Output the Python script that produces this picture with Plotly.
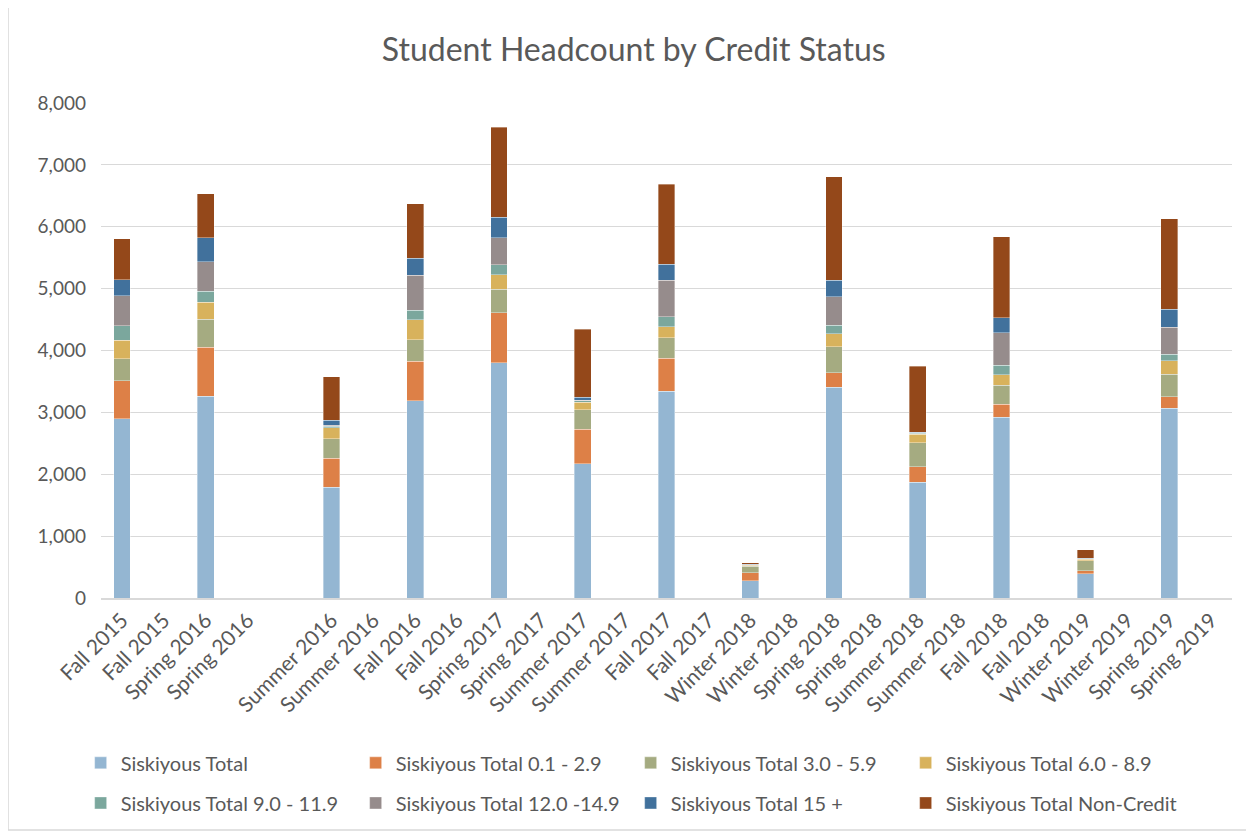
import plotly.graph_objects as go

terms = ["Fall 2015", "Spring 2016", "Summer 2016", "Fall 2016", "Spring 2017", "Summer 2017",
         "Fall 2017", "Winter 2018", "Spring 2018", "Summer 2018", "Fall 2018", "Winter 2019", "Spring 2019"]

# axis slots: each term appears twice, plus one blank slot after Spring 2016
# (a zero-width space keeps the repeated labels distinct for plotly)
ZW = "\u200b"
axis_labels = ["Fall 2015", "Fall 2015" + ZW, "Spring 2016", "Spring 2016" + ZW, ZW * 2,
               "Summer 2016", "Summer 2016" + ZW, "Fall 2016", "Fall 2016" + ZW,
               "Spring 2017", "Spring 2017" + ZW, "Summer 2017", "Summer 2017" + ZW,
               "Fall 2017", "Fall 2017" + ZW, "Winter 2018", "Winter 2018" + ZW,
               "Spring 2018", "Spring 2018" + ZW, "Summer 2018", "Summer 2018" + ZW,
               "Fall 2018", "Fall 2018" + ZW, "Winter 2019", "Winter 2019" + ZW,
               "Spring 2019", "Spring 2019" + ZW]

total = [2900, 3260, 1786, 3189, 3803, 2170, 3342, 279, 3403, 1868, 2921, 389, 3063]
c01_29 = [614, 789, 471, 636, 811, 559, 532, 126, 241, 252, 214, 49, 186]
c30_59 = [356, 455, 318, 351, 373, 312, 334, 105, 416, 389, 301, 168, 367]
c60_89 = [296, 279, 175, 318, 236, 126, 175, 22, 208, 137, 175, 22, 219]
c90_119 = [236, 175, 25, 159, 159, 20, 159, 4, 137, 18, 148, 4, 104]
c120_149 = [482, 477, 19, 564, 444, 13, 592, 4, 460, 10, 526, 4, 433]
c15_plus = [263, 389, 77, 274, 329, 44, 258, 3, 268, 5, 241, 3, 296]
non_credit = [658, 707, 701, 877, 1452, 1096, 1293, 30, 1677, 1063, 1315, 142, 1463]

series_names = ["Siskiyous Total", "Siskiyous Total 0.1 - 2.9", "Siskiyous Total 3.0 - 5.9",
                "Siskiyous Total 6.0 - 8.9", "Siskiyous Total 9.0 - 11.9", "Siskiyous Total 12.0 -14.9",
                "Siskiyous Total 15 +", "Siskiyous Total Non-Credit"]
series_values = [total, c01_29, c30_59, c60_89, c90_119, c120_149, c15_plus, non_credit]
colors = ["#94B6D2", "#DD8047", "#A5AB81", "#D8B25C", "#7BA79D", "#968C8C", "#41719C", "#94481A"]

FONT = "Lato"
TXT = "#595959"

fig = go.Figure()
for i, (name, vals) in enumerate(zip(series_names, series_values)):
    fig.add_trace(go.Bar(
        name=name, x=terms, y=vals, marker_color=colors[i],
        marker_line=dict(color="rgba(255,255,255,0.6)", width=0.6),
        width=0.4, legend="legend" if i < 4 else "legend2",
    ))

legend_common = dict(orientation="h", entrywidth=230, xanchor="left", yanchor="middle",
                     traceorder="normal",
                     font=dict(family=FONT, size=20, color=TXT), bgcolor="rgba(0,0,0,0)",
                     itemclick=False)

fig.update_layout(
    barmode="stack",
    width=1254, height=833,
    margin=dict(l=93, r=30, t=95, b=243),
    paper_bgcolor="white", plot_bgcolor="white",
    font=dict(family=FONT, color=TXT),
    title=dict(text="Student Headcount by Credit Status", x=0.499, xref="container", xanchor="center",
               y=0.9496, yref="container", yanchor="middle",
               font=dict(family=FONT, size=32, color=TXT)),
    xaxis=dict(type="category", categoryorder="array", categoryarray=axis_labels,
               range=[-0.5, len(axis_labels) - 0.5],
               tickmode="array", tickvals=axis_labels, ticktext=axis_labels,
               tickangle=-45, tickfont=dict(family=FONT, size=21, color=TXT),
               showgrid=False, showline=True, linecolor="#d9d9d9", linewidth=1.5, ticks=""),
    yaxis=dict(range=[0, 8000], dtick=1000, tickformat=",", showgrid=True,
               gridcolor="#d9d9d9", gridwidth=1.3, zeroline=False, ticks="",
               tickfont=dict(family=FONT, size=19, color=TXT), ticklabelstandoff=14),
    legend=dict(x=-0.018, y=-0.333, **legend_common),
    legend2=dict(x=-0.018, y=-0.414, **legend_common),
    shapes=[dict(type="rect", xref="paper", yref="paper", x0=-0.0822, x1=1.016,
                 y0=-0.4687, y1=1.204, line=dict(color="#d9d9d9", width=1.5))],
)

fig.write_html("out.html")
